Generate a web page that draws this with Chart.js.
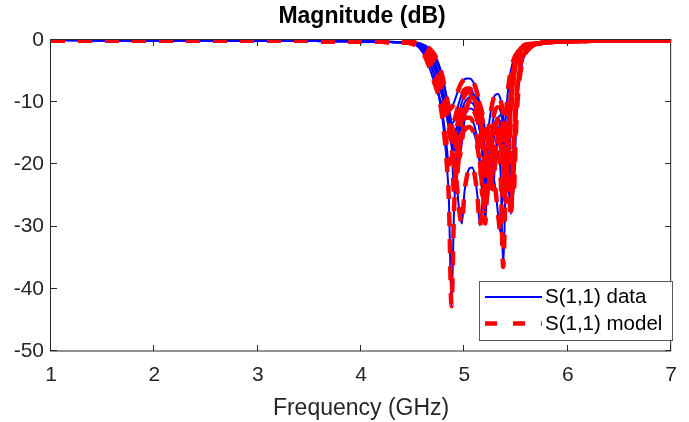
<!DOCTYPE html>
<html>
<head>
<meta charset="utf-8">
<script src="https://cdn.jsdelivr.net/npm/chart.js@4/dist/chart.umd.min.js"></script>
<style>
  html, body { margin: 0; padding: 0; background: #fff; }
  #wrap { width: 689px; height: 422px; }
</style>
</head>
<body>
<div id="wrap"><canvas id="grafica"></canvas></div>
<script>
// frecuencias (GHz)
const lowFreq = [1, 1.5, 2, 2.5, 3, 3.5, 4, 4.2, 4.4];
const bandFreq = [4.5, 4.525, 4.55, 4.575, 4.6, 4.625, 4.65, 4.675, 4.7, 4.725,
  4.75, 4.775, 4.8, 4.825, 4.85, 4.875, 4.9, 4.925, 4.95, 4.975,
  5.0, 5.025, 5.05, 5.075, 5.1, 5.125, 5.15, 5.175, 5.2, 5.225,
  5.25, 5.275, 5.3, 5.325, 5.35, 5.375, 5.4, 5.425, 5.45, 5.475,
  5.5, 5.525, 5.55, 5.575, 5.6];
const highFreq = [5.7, 5.8, 5.9, 6, 6.25, 6.5, 6.75, 7];

// tramos comunes fuera de banda (dB)
const lowDb = [-0.02, -0.03, -0.04, -0.06, -0.09, -0.14, -0.22, -0.28, -0.38];
const highDb = [-0.6, -0.35, -0.25, -0.19, -0.13, -0.09, -0.07, -0.05];

// S11 en banda, una lista por medida
const s11A = [-0.6, -0.8, -1.1, -1.5, -2.1, -2.9, -3.9, -5.1, -6.4, -7.7,
  -8.9, -9.9, -10.6, -11.0, -11.1, -10.9, -10.0, -8.8, -7.6, -6.8,
  -6.3, -6.2, -6.2, -6.5, -7.3, -8.6, -10.5, -13.0, -15.5, -15.0,
  -12.0, -9.8, -8.8, -8.7, -9.6, -12.0, -16.0, -14.5, -8.5, -4.8,
  -2.8, -1.8, -1.2, -0.9, -0.7];
const s11B = [-0.5, -0.6, -0.75, -0.95, -1.3, -1.75, -2.3, -3.1, -4.1, -5.4,
  -6.9, -8.5, -10.1, -11.6, -12.8, -13.4, -13.0, -11.5, -9.9, -8.7,
  -8.0, -7.8, -7.8, -8.2, -9.1, -10.6, -12.8, -16.0, -20.5, -22.0,
  -17.0, -13.0, -11.2, -10.8, -11.5, -14.0, -19.5, -23.0, -12.5, -6.5,
  -3.6, -2.2, -1.4, -1.0, -0.8];
const s11C = [-0.45, -0.55, -0.7, -0.9, -1.2, -1.6, -2.1, -2.8, -3.7, -4.9,
  -6.4, -8.1, -10.0, -12.0, -14.0, -15.6, -16.0, -14.2, -11.8, -10.0,
  -9.0, -8.5, -8.4, -8.8, -9.8, -11.5, -14.0, -18.0, -24.0, -26.0,
  -19.5, -15.0, -13.0, -12.6, -13.5, -16.5, -21.0, -18.0, -10.0, -5.5,
  -3.2, -2.0, -1.3, -0.9, -0.7];
const s11D = [-0.45, -0.5, -0.65, -0.8, -1.05, -1.4, -1.85, -2.45, -3.2, -4.2,
  -5.5, -7.0, -8.8, -10.8, -13.0, -15.5, -17.8, -16.5, -13.5, -11.4,
  -10.1, -9.5, -9.2, -9.2, -9.7, -10.8, -12.5, -14.8, -17.5, -19.8,
  -20.0, -17.0, -14.2, -12.6, -12.1, -12.8, -15.0, -19.5, -27.5, -22.0,
  -11.0, -6.0, -3.6, -2.3, -1.5];
const s11E = [-0.45, -0.55, -0.7, -0.9, -1.15, -1.5, -2.0, -2.7, -3.6, -4.8,
  -6.2, -7.9, -9.8, -11.9, -14.2, -16.9, -19.8, -22.0, -18.0, -13.8,
  -11.6, -10.5, -10.0, -10.1, -10.8, -12.3, -14.8, -19.0, -29.5, -22.0,
  -17.5, -15.6, -15.0, -15.4, -17.0, -20.5, -26.0, -17.5, -10.0, -5.8,
  -3.5, -2.2, -1.5, -1.0, -0.75];
const s11F = [-0.35, -0.4, -0.45, -0.55, -0.7, -0.9, -1.2, -1.6, -2.1, -2.8,
  -3.8, -5.1, -6.8, -9.0, -12.0, -16.5, -24.5, -19.5, -15.0, -12.8,
  -11.7, -11.2, -11.0, -11.1, -11.7, -12.9, -14.6, -17.0, -20.2, -23.5,
  -23.8, -20.0, -17.5, -16.3, -16.1, -17.2, -19.0, -23.0, -28.0, -17.0,
  -9.5, -5.5, -3.3, -2.1, -1.4];
const s11G = [-0.4, -0.5, -0.6, -0.75, -1.0, -1.3, -1.75, -2.35, -3.1, -4.1,
  -5.4, -7.0, -8.9, -11.1, -13.6, -16.4, -19.5, -23.0, -27.5, -29.5,
  -24.5, -21.8, -20.6, -20.5, -21.8, -25.0, -29.8, -26.0, -22.5, -20.8,
  -20.5, -21.5, -24.0, -28.0, -31.0, -21.0, -12.5, -7.5, -4.8, -3.2,
  -2.3, -1.7, -1.3, -1.0, -0.8];
const s11H = [-0.55, -0.7, -0.9, -1.2, -1.6, -2.2, -3.0, -4.0, -5.3, -6.9,
  -8.8, -11.2, -14.5, -19.0, -26.0, -42.8, -27.0, -20.5, -17.2, -15.4,
  -14.5, -14.1, -14.0, -14.4, -15.4, -17.2, -20.0, -24.0, -27.5, -24.0,
  -20.0, -18.0, -17.4, -18.2, -21.5, -36.5, -22.0, -12.0, -7.0, -4.3,
  -2.8, -1.9, -1.3, -0.95, -0.7];
const s11I = [-0.55, -0.7, -0.9, -1.2, -1.6, -2.2, -3.0, -4.0, -5.2, -6.7,
  -8.5, -10.6, -13.2, -16.5, -20.0, -18.0, -15.5, -14.0, -13.2, -12.8,
  -12.6, -12.5, -12.5, -12.9, -14.0, -16.0, -19.5, -25.0, -21.0, -17.0,
  -15.0, -14.2, -14.0, -14.5, -16.0, -18.8, -22.0, -16.0, -10.0, -6.2,
  -4.0, -2.7, -1.8, -1.3, -0.95];
const s11J = [-0.4, -0.45, -0.55, -0.65, -0.85, -1.1, -1.45, -1.9, -2.5, -3.3,
  -4.3, -5.6, -7.2, -9.0, -11.0, -13.3, -15.8, -18.0, -19.0, -16.5,
  -13.0, -10.8, -9.6, -9.1, -9.0, -9.4, -10.4, -12.0, -14.5, -18.0,
  -22.0, -24.0, -19.0, -15.0, -13.3, -13.0, -14.0, -17.0, -22.5, -25.0,
  -14.0, -7.5, -4.4, -2.8, -1.9];

const medidas = [s11A, s11B, s11C, s11D, s11E, s11F, s11G, s11H, s11I, s11J];
const xTicks = [1, 2, 3, 4, 5, 6, 7];
const yTicks = [0, -10, -20, -30, -40, -50];

const fuente = "'Liberation Sans', Arial, Helvetica, sans-serif";
const colorEje = '#262626';

const frecuencias = lowFreq.concat(bandFreq, highFreq);

function puntos(banda) {
  const db = lowDb.concat(banda, highDb);
  return frecuencias.map((f, i) => ({ x: f, y: db[i] }));
}

const datasets = [];
medidas.forEach((banda, idx) => {
  datasets.push({
    label: 'S(1,1) data ' + idx,
    data: puntos(banda),
    borderColor: '#0000ff',
    borderWidth: 2,
    pointRadius: 0,
    cubicInterpolationMode: 'monotone',
    order: 1
  });
  datasets.push({
    label: 'S(1,1) model ' + idx,
    data: puntos(banda),
    borderColor: '#ff0000',
    borderWidth: 4.5,
    borderDash: [14, 13],
    pointRadius: 0,
    cubicInterpolationMode: 'monotone',
    order: 0
  });
});

// caja de ejes con marcas hacia dentro, estilo MATLAB
const cajaEjes = {
  id: 'cajaEjes',
  beforeDatasetsDraw(chart) {
    const { ctx, chartArea: a, scales } = chart;
    ctx.save();
    ctx.strokeStyle = colorEje;
    ctx.lineWidth = 1;
    ctx.strokeRect(a.left - 0.5, a.top - 0.5, a.right - a.left, a.bottom - a.top + 0.5);
    ctx.beginPath();
    xTicks.forEach(v => {
      const x = Math.round(scales.x.getPixelForValue(v)) - 0.5;
      ctx.moveTo(x, a.bottom); ctx.lineTo(x, a.bottom - 6);
      ctx.moveTo(x, a.top); ctx.lineTo(x, a.top + 6);
    });
    yTicks.forEach(v => {
      const y = Math.round(scales.y.getPixelForValue(v)) - 0.5;
      ctx.moveTo(a.left, y); ctx.lineTo(a.left + 6, y);
      ctx.moveTo(a.right, y); ctx.lineTo(a.right - 6, y);
    });
    ctx.stroke();

    ctx.fillStyle = '#000';
    ctx.font = 'bold 23px ' + fuente;
    ctx.textAlign = 'center';
    ctx.textBaseline = 'middle';
    ctx.fillText('Magnitude (dB)', (a.left + a.right) / 2 + 1, 17);
    ctx.restore();
  }
};

const leyenda = {
  id: 'leyenda',
  afterDatasetsDraw(chart) {
    const { ctx } = chart;
    ctx.save();
    ctx.fillStyle = '#fff';
    ctx.fillRect(479.5, 281.5, 193, 59);
    ctx.strokeStyle = '#5a5a5a';
    ctx.lineWidth = 1;
    ctx.strokeRect(479.5, 281.5, 193, 59);

    ctx.beginPath();
    ctx.strokeStyle = '#0000ff';
    ctx.lineWidth = 2;
    ctx.moveTo(485, 297);
    ctx.lineTo(542, 297);
    ctx.stroke();

    ctx.beginPath();
    ctx.strokeStyle = '#ff0000';
    ctx.lineWidth = 4.5;
    ctx.setLineDash([12, 16]);
    ctx.moveTo(485, 323.5);
    ctx.lineTo(542, 323.5);
    ctx.stroke();
    ctx.setLineDash([]);

    ctx.fillStyle = '#000';
    ctx.font = '20.5px ' + fuente;
    ctx.textAlign = 'left';
    ctx.textBaseline = 'middle';
    ctx.fillText('S(1,1) data', 545, 297);
    ctx.fillText('S(1,1) model', 545, 324);
    ctx.restore();
  }
};

new Chart(document.getElementById('grafica'), {
  type: 'line',
  data: { datasets },
  options: {
    responsive: true,
    maintainAspectRatio: false,
    animation: false,
    layout: { padding: { top: 40, right: 15, bottom: 0, left: 0 } },
    plugins: {
      legend: { display: false },
      tooltip: { enabled: false },
      title: { display: false }
    },
    scales: {
      x: {
        type: 'linear',
        min: 1,
        max: 7,
        grid: { display: false, drawTicks: false },
        border: { display: false },
        afterFit(scale) { scale.height = 71; },
        afterBuildTicks(scale) { scale.ticks = xTicks.map(v => ({ value: v })); },
        ticks: {
          padding: 12,
          color: colorEje,
          font: { family: fuente, size: 21 },
          callback: v => String(v)
        },
        title: {
          display: true,
          text: 'Frequency (GHz)',
          color: colorEje,
          font: { family: fuente, size: 23 },
          padding: { top: 0, bottom: 0 }
        }
      },
      y: {
        min: -50,
        max: 0,
        grid: { display: false, drawTicks: false },
        border: { display: false },
        afterFit(scale) { scale.width = 51; },
        afterBuildTicks(scale) { scale.ticks = yTicks.slice().reverse().map(v => ({ value: v })); },
        ticks: {
          padding: 7,
          color: colorEje,
          font: { family: fuente, size: 21 },
          callback: v => String(v)
        }
      }
    }
  },
  plugins: [cajaEjes, leyenda]
});
</script>
</body>
</html>
